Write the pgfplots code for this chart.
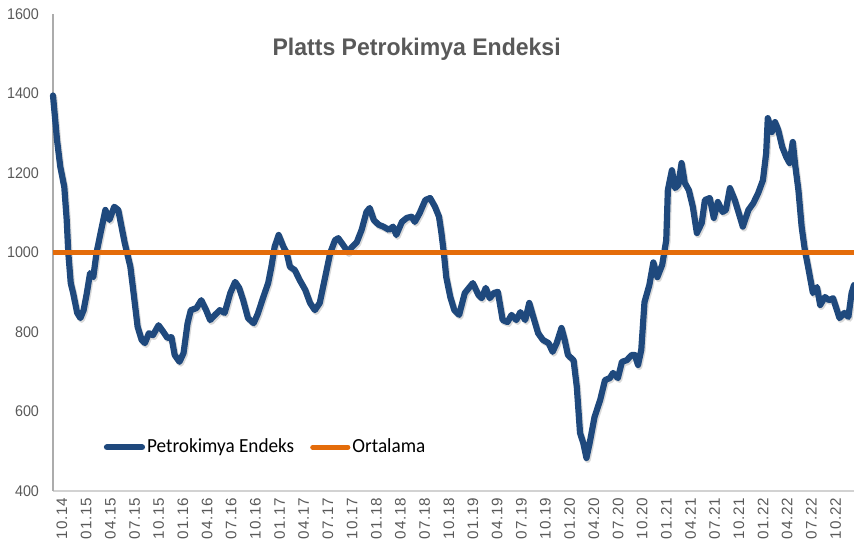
\documentclass[border=0pt]{standalone}
\usepackage{fontspec}
\usepackage{pgfplots}
\usepackage{pgfplotstable}
\pgfplotsset{compat=1.18}
\setmainfont{Liberation Sans}
\newfontfamily\ynarrow[FakeStretch=0.93]{Liberation Sans}
\newfontfamily\xlab[LetterSpace=5]{Liberation Sans}
\newfontfamily\titlefont[FakeStretch=0.96]{Liberation Sans}
\newfontfamily\legfont[FakeStretch=0.96]{Carlito}
\definecolor{pblue}{RGB}{31,73,125}
\definecolor{porange}{RGB}{228,108,10}
\definecolor{tgray}{RGB}{89,89,89}

\pgfplotstableread{
m v
0.0 1395
0.5 1283
0.9 1216
1.4 1165
1.7 1082
1.9 999
2.2 923
2.5 898
3.0 848
3.4 835
3.8 855
4.2 898
4.6 948
5.0 938
5.4 999
5.8 1039
6.5 1107
7.0 1082
7.6 1115
8.1 1107
8.5 1065
8.9 1024
9.6 964
10.0 898
10.5 813
11.0 780
11.4 772
11.9 797
12.4 792
13.1 817
13.7 800
14.2 785
14.7 787
15.1 742
15.7 725
16.2 747
16.7 822
17.1 855
17.8 860
18.4 880
19.0 855
19.5 830
20.1 843
20.7 855
21.3 848
22.0 898
22.6 926
23.1 911
23.6 880
24.2 835
24.9 822
25.4 845
26.1 888
26.7 923
27.1 964
27.5 1014
28.0 1044
28.6 1014
29.0 999
29.4 964
30.0 956
30.6 931
31.3 906
31.9 873
32.5 855
33.1 873
33.7 931
34.4 999
35.0 1031
35.4 1036
36.0 1019
36.6 1001
37.1 1014
37.7 1026
38.3 1057
38.9 1102
39.3 1112
39.8 1082
40.4 1070
41.0 1065
41.7 1057
42.2 1065
42.6 1044
43.3 1077
43.9 1087
44.5 1090
44.9 1077
45.5 1099
46.2 1132
46.8 1137
47.4 1115
47.9 1090
48.2 1049
48.5 999
48.8 938
49.3 888
49.8 855
50.4 843
51.1 898
52.1 923
52.8 893
53.2 885
53.7 911
54.2 885
54.7 898
55.2 901
55.8 830
56.4 825
56.9 843
57.5 830
58.0 850
58.6 830
59.1 873
59.6 838
60.2 797
60.8 780
61.5 772
62.0 750
62.5 772
63.1 810
63.5 780
63.9 742
64.6 729
65.0 662
65.4 546
65.8 521
66.2 483
66.6 521
67.2 586
67.9 629
68.5 679
69.1 684
69.5 697
70.1 684
70.6 725
71.2 729
71.8 742
72.2 742
72.6 717
73.0 755
73.4 875
74.0 918
74.5 975
75.0 938
75.6 969
76.1 1031
76.3 1157
76.8 1207
77.2 1162
77.6 1170
78.0 1225
78.4 1175
78.9 1157
79.4 1115
79.9 1049
80.5 1074
80.9 1132
81.5 1137
82.0 1087
82.5 1127
83.1 1102
83.5 1107
84.0 1162
84.6 1132
85.1 1099
85.6 1065
86.3 1107
86.9 1124
87.5 1149
88.1 1182
88.5 1250
88.7 1338
89.2 1303
89.6 1328
90.0 1308
90.5 1265
91.0 1240
91.4 1225
91.8 1278
92.1 1220
92.5 1157
92.9 1065
93.3 1006
93.7 964
94.3 898
94.8 913
95.2 868
95.8 888
96.3 880
96.8 885
97.2 860
97.6 835
98.2 848
98.7 838
99.1 898
99.4 918
}\petro

\begin{document}
\begin{tikzpicture}
\begin{axis}[
  name=ax,
  scale only axis,
  width=400.5pt, height=238.5pt,
  xmin=0, xmax=99.4,
  ymin=400, ymax=1600,
  ytick={400,600,...,1600},
  xtick={0,3,...,99},
  xticklabels={10.14,01.15,04.15,07.15,10.15,01.16,04.16,07.16,10.16,01.17,04.17,07.17,10.17,01.18,04.18,07.18,10.18,01.19,04.19,07.19,10.19,01.20,04.20,07.20,10.20,01.21,04.21,07.21,10.21,01.22,04.22,07.22,10.22,01.23},
  major tick length=0pt,
  axis x line*=bottom,
  axis y line*=left,
  axis line style={-},
  x axis line style={-,draw=gray!35,line width=1pt},
  y axis line style={-,draw=gray!65,line width=0.8pt},
  /pgf/number format/assume math mode=true,
  /pgf/number format/1000 sep={},
  yticklabel style={font=\ynarrow\fontsize{7.7}{9}\selectfont, text=tgray, xshift=-3.5pt},
  xticklabel style={font=\xlab\fontsize{7.6}{9}\selectfont, text=tgray, rotate=90, anchor=east, yshift=-4.5pt},
  legend style={at={(0.063,0.0916)}, anchor=west, draw=none, fill=none,
    font=\legfont\fontsize{10}{12}\selectfont, inner sep=0pt,
    nodes={inner sep=1pt},
    /tikz/every even column/.append style={column sep=7pt}},
  legend columns=2,
  legend image code/.code={\draw[#1, line cap=round] (0pt,0pt) -- (17.5pt,0pt);},
  clip=false,
]
\addplot[forget plot, color=black!15, line width=3.1pt, line join=round, line cap=round, transform canvas={xshift=0.6pt,yshift=-0.9pt}] table[x=m,y=v] {\petro};
\addplot[color=pblue, line width=3.1pt, line join=round, line cap=round] table[x=m,y=v] {\petro};
\addlegendentry{Petrokimya Endeks}
\addplot[color=porange, line width=2.6pt] coordinates {(0,1000) (99.4,1000)};
\addlegendentry{Ortalama}
\node[font=\titlefont\bfseries\fontsize{12}{14}\selectfont, text=tgray] at (rel axis cs:0.454,0.927) {Platts Petrokimya Endeksi};
\end{axis}
\pgfresetboundingbox
\path[use as bounding box] ([xshift=-26.5pt,yshift=-29.2pt]ax.south west) rectangle ([yshift=7pt]ax.north east);
\end{tikzpicture}
\end{document}
